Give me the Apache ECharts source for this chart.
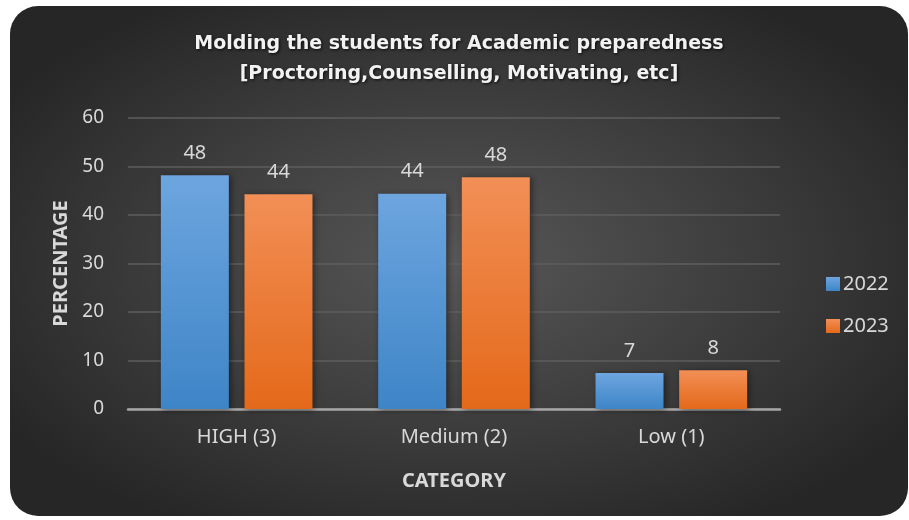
<!DOCTYPE html>
<html>
<head>
<meta charset="utf-8">
<script src="https://cdn.jsdelivr.net/npm/echarts@6/dist/echarts.min.js"></script>
<style>
html,body{margin:0;padding:0;background:#fff;width:909px;height:520px;overflow:hidden;}
#chart{position:absolute;left:10px;top:6px;width:898px;height:510px;border-radius:28px;overflow:hidden;
background:radial-gradient(ellipse 60% 60% at 50% 50%, #575757 0%, #3a3a3a 60%, #262626 100%);}
</style>
</head>
<body>
<div id="chart"></div>
<script>
var categories = ['HIGH (3)', 'Medium (2)', 'Low (1)'];
var values2022 = [48.2, 44.4, 7.4];
var values2023 = [44.3, 47.8, 8.0];
var yTicks = [0, 10, 20, 30, 40, 50, 60];

var chart = echarts.init(document.getElementById('chart'), null, {renderer:'canvas'});
function grad(top, bottom){
  return new echarts.graphic.LinearGradient(0,0,0,1,[{offset:0,color:top},{offset:1,color:bottom}]);
}
var labelCfg = {show:true, position:'top', distance:12, color:'#d9d9d9', fontSize:20, fontFamily:'Noto Sans',
  formatter:function(p){return Math.round(p.value);}};
chart.setOption({
  backgroundColor:'transparent',
  title:{
    text:'Molding the students for Academic preparedness\n[Proctoring,Counselling, Motivating, etc]',
    left:'center', top:18,
    textStyle:{color:'#f2f2f2', fontSize:19, fontWeight:'bold', fontFamily:'DejaVu Sans', lineHeight:30,
      textShadowColor:'rgba(0,0,0,0.8)', textShadowBlur:3, textShadowOffsetX:1, textShadowOffsetY:1}
  },
  legend:{
    orient:'vertical', left:811, top:263, itemGap:22, itemWidth:14, itemHeight:14,
    icon:'rect',
    textStyle:{color:'#d9d9d9', fontSize:20, fontFamily:'Noto Sans', padding:[0,0,0,-2]},
    data:['2022','2023']
  },
  grid:{left:118, right:128, top:112, bottom:107},
  xAxis:{
    type:'category', data:categories,
    name:'CATEGORY', nameLocation:'middle', nameGap:62,
    nameTextStyle:{color:'#d9d9d9', fontSize:20, fontWeight:'bold', fontFamily:'Noto Sans'},
    axisLine:{lineStyle:{color:'#a6a6a6', width:2.5}},
    axisTick:{show:false},
    axisLabel:{color:'#d9d9d9', fontSize:20, fontFamily:'Noto Sans', margin:18}
  },
  yAxis:{
    type:'value', min:yTicks[0], max:yTicks[yTicks.length-1], interval:10,
    name:'PERCENTAGE', nameLocation:'middle', nameGap:56, nameRotate:90,
    nameTextStyle:{color:'#d9d9d9', fontSize:20, fontWeight:'bold', fontFamily:'Noto Sans'},
    axisLine:{show:false}, axisTick:{show:false},
    axisLabel:{color:'#d9d9d9', fontSize:19, fontFamily:'Noto Sans', margin:24},
    splitLine:{lineStyle:{color:'#5e5e5e', width:1.5}}
  },
  series:[
    {name:'2022', type:'bar', data:values2022, barWidth:68, barGap:'23%',
      itemStyle:{color:grad('#6da5df','#3e85c7'), shadowColor:'rgba(0,0,0,0.45)', shadowBlur:6, shadowOffsetX:2, shadowOffsetY:1},
      label:labelCfg},
    {name:'2023', type:'bar', data:values2023, barWidth:68,
      itemStyle:{color:grad('#f28f56','#e4691a'), shadowColor:'rgba(0,0,0,0.45)', shadowBlur:6, shadowOffsetX:2, shadowOffsetY:1},
      label:labelCfg}
  ]
});
</script>
</body>
</html>
